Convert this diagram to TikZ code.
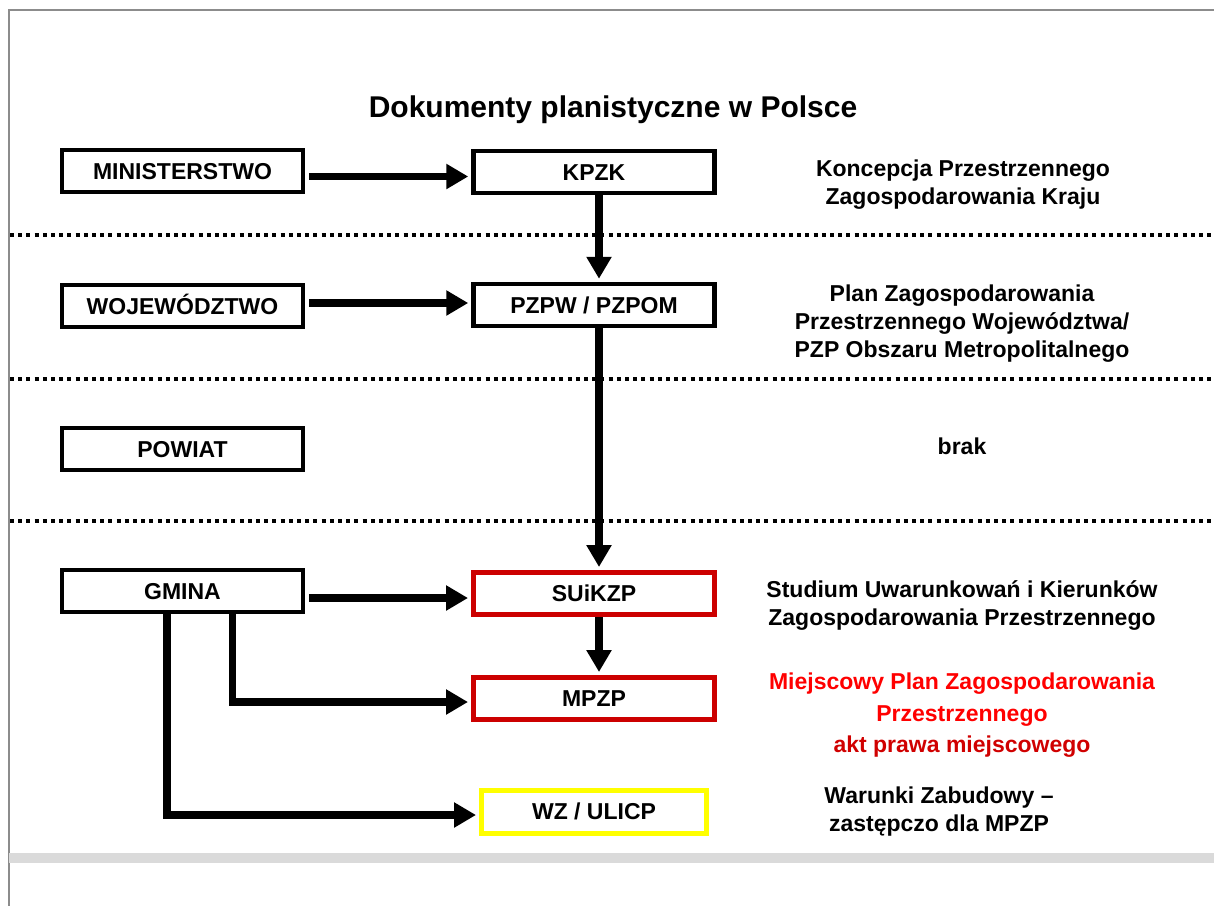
\documentclass[tikz,border=0pt]{standalone}
\usepackage{fontspec}
\setmainfont{Liberation Sans}
\usetikzlibrary{positioning, calc, arrows.meta}
\definecolor{boxred}{HTML}{CC0000}
\definecolor{planred}{HTML}{FF0000}
\definecolor{aktred}{HTML}{D00000}
\definecolor{boxyellow}{HTML}{FFFF00}
\definecolor{framegray}{HTML}{8C8C8C}
\definecolor{bandgray}{HTML}{DADADA}

\begin{document}
\begin{tikzpicture}[x=1pt, y=-1pt,
		box/.style={draw, line width=4.5pt, minimum width=241pt, minimum height=42pt, inner sep=0pt,
			text height=16.5pt, text depth=0pt, font=\fontsize{23}{27}\selectfont\bfseries},
		redbox/.style={box, draw=boxred, line width=5pt},
		yellowbox/.style={box, draw=boxyellow, line width=5pt, minimum width=225pt, minimum height=43pt},
		desc/.style={align=center, inner sep=0pt, font=\fontsize{23}{28}\selectfont\bfseries},
		level/.style={line width=4pt, dash pattern=on 4pt off 4.2pt},
		arr/.style={line width=7.5pt, -{Triangle[length=22pt, width=24pt]}, shorten >=3pt}]
			\useasboundingbox (0,0) rectangle (1214,906);
			\draw [framegray, line width=2pt] (1214,10) -- (9,10) -- (9,906);
			\fill [bandgray] (9,853) rectangle (1214,863);
			\foreach \y in {235,379,521}
				\draw [level] (10,\y) -- (1214,\y);
			\node (title) [inner sep=0pt, font=\fontsize{30}{35}\selectfont\bfseries] at (613,109.5)
				{Dokumenty planistyczne w Polsce};
			\node (min) [box] at (182.5,171) {MINISTERSTWO};
			\node (woj) [box] at (182.5,306) {WOJEWÓDZTWO};
			\node (pow) [box] at (182.5,449) {POWIAT};
			\node (gmi) [box] at (182.5,591) {GMINA};
			\node (kpzk) [box] at (594,172) {KPZK};
			\node (pzpw) [box] at (594,305) {PZPW / PZPOM};
			\node (suik) [redbox] at (594,593.5) {SUiKZP};
			\node (mpzp) [redbox] at (594,698.5) {MPZP};
			\node (wz) [yellowbox] at (594,811.5) {WZ / ULICP};
			\draw [arr, shorten <=4pt] ([yshift=-5.5pt]min.east) -- ([yshift=-5.5pt]min.east -| kpzk.west);
			\draw [arr, shorten <=4pt] ([yshift=3pt]woj.east) -- ([yshift=3pt]woj.east -| pzpw.west);
			\draw [arr] ([xshift=5pt]kpzk.south) -- ([xshift=5pt]pzpw.north);
			\draw [arr] ([xshift=5pt]pzpw.south) -- ([xshift=5pt]suik.north);
			\draw [arr] ([xshift=5pt]suik.south) -- ([xshift=5pt]mpzp.north);
			\draw [arr, shorten <=4pt] ([yshift=-7pt]gmi.east) -- ([yshift=-7pt]gmi.east -| suik.west);
			\draw [arr] ([xshift=50pt]gmi.south) |- ([yshift=-3.5pt]mpzp.west);
			\draw [arr] ([xshift=-15.5pt]gmi.south) |- ([yshift=-3.5pt]wz.west);
			\node (kpzk txt) [desc] at (963,185) {Koncepcja Przestrzennego\\Zagospodarowania Kraju};
			\node (pzpw txt) [desc] at (962,324)
				{Plan Zagospodarowania\\Przestrzennego Województwa/\\PZP Obszaru Metropolitalnego};
			\node (pow txt) [desc] at (962,446.6) {brak};
			\node (suik txt) [desc] at (962,605.5) {Studium Uwarunkowań i Kierunków\\Zagospodarowania Przestrzennego};
			\node (mpzp txt) [desc, text=planred, font=\fontsize{23}{32}\selectfont\bfseries] at (962,700)
				{Miejscowy Plan Zagospodarowania\\Przestrzennego};
			\node (akt txt) [desc, text=aktred] at (962,747) {akt prawa miejscowego};
			\node (wz txt) [desc] at (939,812) {Warunki Zabudowy –\\zastępczo dla MPZP};
		\end{tikzpicture}
\end{document}
